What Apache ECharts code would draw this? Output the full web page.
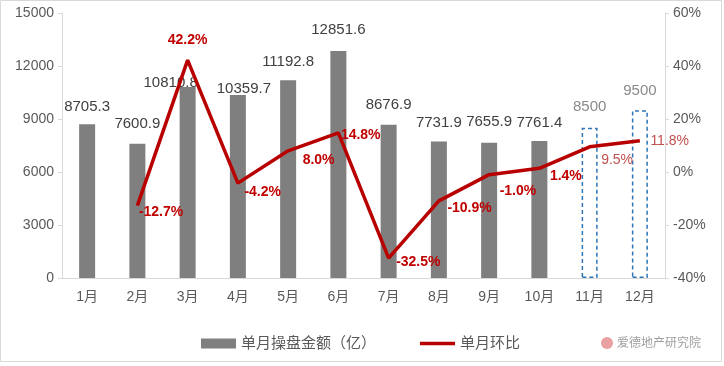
<!DOCTYPE html>
<html>
<head>
<meta charset="utf-8">
<script src="https://cdn.jsdelivr.net/npm/echarts@6/dist/echarts.min.js"></script>
<style>
html,body{margin:0;padding:0;background:#fff;}
#chart{width:724px;height:366px;}
</style>
</head>
<body>
<div id="chart"></div>
<script>
var categories = ['1月','2月','3月','4月','5月','6月','7月','8月','9月','10月','11月','12月'];
var amounts = [8705.3, 7600.9, 10810.8, 10359.7, 11192.8, 12851.6, 8676.9, 7731.9, 7655.9, 7761.4, 8500, 9500];
var momPct = [null, -12.7, 42.2, -4.2, 8.0, 14.8, -32.5, -10.9, -1.0, 1.4, 9.5, 11.8];
var forecastFlags = [false,false,false,false,false,false,false,false,false,false,true,true];
var leftTicks = {min: 0, max: 15000, interval: 3000};
var rightTicks = {min: -40, max: 60, interval: 20};

// label placement tweaks (style only)
var barLabelOffsets = [[0,-5],[0,-7],[-17,8],[6,6],[0,-6],[0,-9],[0,-7],[0,-6],[0,-8],[0,-6],[0,-8],[0,-7]];
var lineLabelOffsets = [[0,0],[-4,6],[0,-8],[1,9],[9,9],[-3,2],[2,4],[3,7],[5,16],[5,8],[6,13],[5,0]];

var FONT = '"Liberation Sans", "Noto Sans CJK SC", sans-serif';
var LINE_COLOR = '#b80000';

var barData = amounts.map(function(v, i){
  var item = {
    value: v,
    label: {offset: barLabelOffsets[i]}
  };
  if (forecastFlags[i]) {
    item.itemStyle = {color: 'rgba(255,255,255,0)', borderColor: '#2e75b6', borderWidth: 1.5, borderType: [4, 3]};
    item.label.color = '#8a8a8a';
  }
  return item;
});

var lineData = momPct.map(function(v, i){
  var item = {value: v, label: {offset: lineLabelOffsets[i]}};
  if (i === 2) item.label.position = 'top';
  if (forecastFlags[i]) { item.label.color = '#c0504d'; item.label.fontWeight = 'normal'; }
  return item;
});

var chart = echarts.init(document.getElementById('chart'));
chart.setOption({
  animation: false,
  backgroundColor: '#fff',
  textStyle: {fontFamily: FONT},
  grid: {left: 62, right: 59, top: 13, bottom: 88, containLabel: false},
  legend: {
    bottom: 10,
    left: 196,
    itemGap: 44,
    itemWidth: 35,
    itemHeight: 10,
    symbolKeepAspect: true,
    textStyle: {fontSize: 15, color: '#595959', fontFamily: FONT},
    data: [
      {name: '单月操盘金额（亿）', icon: 'rect'},
      {name: '单月环比', icon: 'path://M0,0 L40,0 L40,4 L0,4 Z', itemStyle: {color: LINE_COLOR}}
    ]
  },
  xAxis: {
    type: 'category',
    data: categories,
    axisLine: {lineStyle: {color: '#d9d9d9', width: 1}},
    axisTick: {show: false},
    axisLabel: {color: '#595959', fontSize: 14, margin: 12, fontFamily: FONT}
  },
  yAxis: [
    {
      type: 'value',
      min: leftTicks.min, max: leftTicks.max, interval: leftTicks.interval,
      axisLine: {show: true, lineStyle: {color: '#d9d9d9'}},
      axisTick: {show: true, length: 4, lineStyle: {color: '#d9d9d9'}},
      splitLine: {show: false},
      axisLabel: {color: '#595959', fontSize: 14, margin: 8, fontFamily: FONT, formatter: function(v){ return String(v); }}
    },
    {
      type: 'value',
      min: rightTicks.min, max: rightTicks.max, interval: rightTicks.interval,
      axisLine: {show: true, lineStyle: {color: '#d9d9d9'}},
      axisTick: {show: true, length: 4, lineStyle: {color: '#d9d9d9'}},
      splitLine: {show: false},
      axisLabel: {color: '#595959', fontSize: 14, margin: 8, formatter: '{value}%', fontFamily: FONT}
    }
  ],
  series: [
    {
      name: '单月操盘金额（亿）',
      type: 'bar',
      yAxisIndex: 0,
      barWidth: 16,
      itemStyle: {color: '#7f7f7f'},
      label: {show: true, position: 'top', color: '#404040', fontSize: 15, fontFamily: FONT},
      data: barData,
      z: 2
    },
    {
      name: '单月环比',
      type: 'line',
      yAxisIndex: 1,
      symbol: 'circle',
      symbolSize: 1,
      showSymbol: true,
      connectNulls: false,
      lineStyle: {color: LINE_COLOR, width: 3.5},
      itemStyle: {color: 'rgba(0,0,0,0)'},
      label: {
        show: true, position: 'right', color: '#c00000', fontSize: 14, fontWeight: 'bold', fontFamily: FONT,
        formatter: function(p){ return p.value == null ? '' : p.value.toFixed(1) + '%'; }
      },
      data: lineData,
      z: 3
    }
  ],
  graphic: [
    {type: 'rect', shape: {x: 0.5, y: 0.5, width: 721, height: 361}, style: {fill: null, stroke: '#d9d9d9', lineWidth: 1}, silent: true},
    {type: 'circle', shape: {cx: 607, cy: 343, r: 6}, style: {fill: '#e8a0a0'}},
    {type: 'text', left: 617, top: 336, style: {text: '爱德地产研究院', fill: '#a0a0a0', font: '12px "Noto Sans CJK SC", sans-serif'}}
  ]
});
</script>
</body>
</html>
